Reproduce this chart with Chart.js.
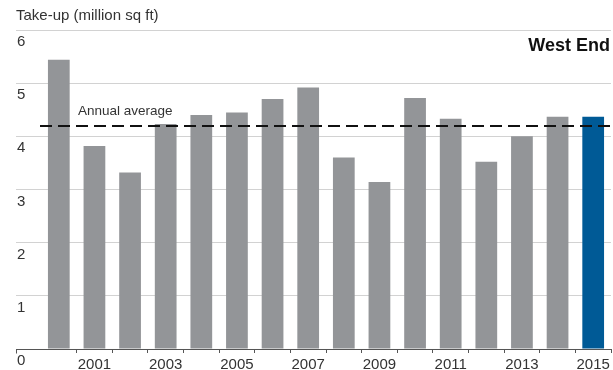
<!DOCTYPE html>
<html>
<head>
<meta charset="utf-8">
<script src="https://cdn.jsdelivr.net/npm/chart.js@4/dist/chart.umd.min.js"></script>
<style>
  html, body { margin: 0; padding: 0; background: #fff; }
  #wrap { width: 613px; height: 370px; position: relative; }
</style>
</head>
<body>
<div id="wrap"><canvas id="takeup"></canvas></div>
<script>
// Take-up по годам, млн кв. футов
const years = ['2000', '2001', '2002', '2003', '2004', '2005', '2006', '2007',
               '2008', '2009', '2010', '2011', '2012', '2013', '2014', '2015'];
const takeUp = [5.44, 3.82, 3.32, 4.23, 4.40, 4.45, 4.70, 4.92,
                3.60, 3.14, 4.72, 4.33, 3.52, 4.00, 4.37, 4.37];
const annualAverage = 4.2;
const yTicks = [0, 1, 2, 3, 4, 5, 6];

const GREY = '#939598';
const BLUE = '#005a96';
const FONT = '"Liberation Sans", Arial, Helvetica, sans-serif';

// последний год выделяем синим
const barColors = years.map((y, i) => i === years.length - 1 ? BLUE : GREY);

// пунктир среднего + подписи
const overlay = {
  id: 'overlay',
  afterDatasetsDraw(chart) {
    const { ctx, chartArea, scales } = chart;
    const y = Math.round(scales.y.getPixelForValue(annualAverage));
    ctx.save();
    ctx.strokeStyle = '#111';
    ctx.lineWidth = 2;
    ctx.setLineDash([12, 6]);
    ctx.beginPath();
    ctx.moveTo(chartArea.left - 1, y);
    ctx.lineTo(chartArea.right, y);
    ctx.stroke();
    ctx.setLineDash([]);

    ctx.fillStyle = '#333';
    ctx.font = '13.5px ' + FONT;
    ctx.textBaseline = 'alphabetic';
    ctx.textAlign = 'left';
    ctx.fillText('Annual average', chartArea.left + 37, y - 11);

    ctx.fillStyle = '#111';
    ctx.font = 'bold 18px ' + FONT;
    ctx.textAlign = 'right';
    ctx.fillText('West End', chartArea.right - 1, chartArea.top + 21);

    // засечка в начале оси X
    const base = Math.round(scales.y.getPixelForValue(0)) + 0.5;
    ctx.strokeStyle = '#555';
    ctx.lineWidth = 1;
    ctx.beginPath();
    ctx.moveTo(chart.options.layout.padding.left + 0.5, base);
    ctx.lineTo(chart.options.layout.padding.left + 0.5, base + 4);
    ctx.stroke();
    ctx.restore();
  }
};

new Chart(document.getElementById('takeup'), {
  type: 'bar',
  data: {
    labels: years,
    datasets: [{
      data: takeUp,
      backgroundColor: barColors,
      borderWidth: 0,
      barPercentage: 0.61,
      categoryPercentage: 1
    }]
  },
  options: {
    responsive: true,
    maintainAspectRatio: false,
    animation: false,
    layout: { padding: { left: 16, right: 2, top: 0, bottom: 0 } },
    plugins: {
      legend: { display: false },
      tooltip: { enabled: false },
      title: {
        display: true,
        text: 'Take-up (million sq ft)',
        align: 'start',
        color: '#333',
        font: { family: FONT, size: 15, weight: 'normal' },
        padding: { top: 7, bottom: 5 }
      }
    },
    scales: {
      x: {
        offset: true,
        border: { display: false },
        grid: {
          offset: true,
          drawOnChartArea: false,
          drawTicks: true,
          tickLength: 4,
          color: ctx => ctx.index === 0 ? 'rgba(0,0,0,0)' : '#555'
        },
        ticks: {
          autoSkip: false,
          maxRotation: 0,
          padding: 3,
          color: '#333',
          font: { family: FONT, size: 15 },
          // подписываем только нечётные годы
          callback: function (val, i) { return i % 2 === 1 ? years[i] : ''; }
        },
        afterFit(scale) { scale.height = 21; }
      },
      y: {
        min: 0,
        max: 6,
        border: { display: false },
        grid: {
          drawTicks: true,
          tickLength: 25,
          color: ctx => ctx.tick && ctx.tick.value === 0 ? '#555' : '#d2d2d2'
        },
        afterBuildTicks(scale) { scale.ticks = yTicks.map(v => ({ value: v })); },
        ticks: {
          mirror: true,
          padding: -24,
          labelOffset: 12,
          color: '#333',
          font: { family: FONT, size: 15 }
        },
        afterFit(scale) { scale.width = 25; }
      }
    }
  },
  plugins: [overlay]
});
</script>
</body>
</html>
